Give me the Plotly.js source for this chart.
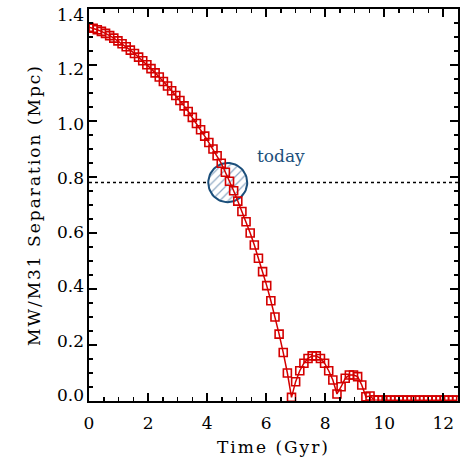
<!DOCTYPE html>
<html>
<head>
<meta charset="utf-8">
<script src="https://cdn.plot.ly/plotly-3.0.1.min.js"></script>
<style>
  body { margin: 0; background: #fff; }
  #myDiv { width: 472px; height: 472px; }
  /* the original axis font runs wider */
  #myDiv text.xtitle, #myDiv text.y2title { letter-spacing: 2px; }
</style>
</head>
<body>
<div id="myDiv"></div>
<script>
// time (Gyr) of each output
var time = [
  0.00, 0.14, 0.28, 0.42, 0.56, 0.70, 0.84, 0.98, 1.12, 1.26,
  1.40, 1.54, 1.68, 1.82, 1.96, 2.10, 2.24, 2.38, 2.52, 2.66,
  2.80, 2.94, 3.08, 3.22, 3.36, 3.50, 3.64, 3.78, 3.92, 4.06,
  4.20, 4.34, 4.48, 4.62, 4.76, 4.90, 5.04, 5.18, 5.32, 5.46,
  5.60, 5.74, 5.88, 6.02, 6.16, 6.30, 6.44, 6.58, 6.72, 6.86,
  7.00, 7.14, 7.28, 7.42, 7.56, 7.70, 7.84, 7.98, 8.12, 8.26,
  8.40, 8.54, 8.68, 8.82, 8.96, 9.10, 9.24, 9.38, 9.52, 9.66,
  9.80, 9.94, 10.08, 10.22, 10.36, 10.50, 10.64, 10.78, 10.92, 11.06,
  11.20, 11.34, 11.48, 11.62, 11.76, 11.90, 12.04, 12.18, 12.32, 12.46
];

// MW/M31 separation (Mpc)
var separation = [
  1.335, 1.331, 1.326, 1.320, 1.313, 1.305, 1.296, 1.286, 1.276, 1.265,
  1.253, 1.241, 1.228, 1.215, 1.201, 1.187, 1.172, 1.157, 1.141, 1.125,
  1.108, 1.091, 1.073, 1.054, 1.034, 1.013, 0.991, 0.969, 0.946, 0.923,
  0.900, 0.876, 0.849, 0.817, 0.785, 0.751, 0.714, 0.677, 0.640, 0.600,
  0.557, 0.510, 0.462, 0.412, 0.358, 0.300, 0.239, 0.173, 0.100, 0.013,
  0.069, 0.108, 0.135, 0.152, 0.161, 0.161, 0.152, 0.135, 0.108, 0.075,
  0.025, 0.051, 0.081, 0.093, 0.093, 0.087, 0.057, 0.015, 0.018, 0.004,
  0.003, 0.003, 0.003, 0.003, 0.003, 0.003, 0.003, 0.003, 0.003, 0.003,
  0.003, 0.003, 0.003, 0.003, 0.003, 0.003, 0.003, 0.003, 0.003, 0.003
];

var yTickVals = [0, 0.2, 0.4, 0.6, 0.8, 1.0, 1.2, 1.4];

// "today" marker
var todayT = 4.70;
var todaySep = 0.78;
var todayRx = 0.66;   // Gyr
var todayRy = 0.070;  // Mpc

var red = '#d40000';
var navy = '#1b4f7b';
var serif = 'DejaVu Serif, serif';

// outline of the "today" circle
var circX = [], circY = [];
for (var k = 0; k <= 64; k++) {
  var a = 2 * Math.PI * k / 64;
  circX.push(todayT + todayRx * Math.cos(a));
  circY.push(todaySep + todayRy * Math.sin(a));
}

var circle = {
  x: circX,
  y: circY,
  type: 'scatter',
  mode: 'lines',
  fill: 'toself',
  fillcolor: 'rgba(0,0,0,0)',
  fillpattern: {shape: '/', fgcolor: '#8fa9c4', bgcolor: 'white', size: 6, solidity: 0.2},
  line: {color: navy, width: 2},
  hoverinfo: 'skip'
};

var orbit = {
  x: time,
  y: separation,
  type: 'scatter',
  mode: 'lines+markers',
  line: {color: red, width: 1.5},
  marker: {symbol: 'square-open', size: 8, color: red, line: {color: red, width: 1.6}},
  cliponaxis: true
};

// invisible trace so the label axis gets drawn
var labelAxis = {
  x: [time[0]],
  y: [separation[0]],
  yaxis: 'y2',
  type: 'scatter',
  mode: 'markers',
  marker: {opacity: 0},
  hoverinfo: 'skip'
};

var tickFont = {family: serif, size: 17, color: 'black'};

var layout = {
  width: 472,
  height: 472,
  margin: {l: 89, r: 14, t: 9, b: 71},
  paper_bgcolor: 'white',
  plot_bgcolor: 'white',
  showlegend: false,
  xaxis: {
    range: [0, 12.5],
    tick0: 0,
    dtick: 2,
    ticks: 'inside',
    ticklen: 8,
    tickwidth: 1.5,
    tickcolor: 'black',
    minor: {dtick: 0.5, ticks: 'inside', ticklen: 4, tickwidth: 1.5, tickcolor: 'black', showgrid: false},
    showline: true,
    linewidth: 2,
    linecolor: 'black',
    mirror: 'ticks',
    showgrid: false,
    zeroline: false,
    tickfont: tickFont,
    ticklabelstandoff: 6,
    title: {text: 'Time (Gyr)', font: {family: serif, size: 17, color: 'black'}, standoff: 9}
  },
  yaxis: {
    range: [0, 1.4],
    tick0: 0,
    dtick: 0.2,
    ticks: 'inside',
    ticklen: 8,
    tickwidth: 1.5,
    tickcolor: 'black',
    minor: {dtick: 0.05, ticks: 'inside', ticklen: 4, tickwidth: 1.5, tickcolor: 'black', showgrid: false},
    showline: true,
    linewidth: 2,
    linecolor: 'black',
    mirror: 'ticks',
    showgrid: false,
    zeroline: false,
    showticklabels: false
  },
  // labels only, spaced like the original
  yaxis2: {
    overlaying: 'y',
    side: 'left',
    range: [-0.0221, 1.4221],
    tickmode: 'array',
    tickvals: yTickVals,
    tickformat: '.1f',
    ticks: '',
    showline: false,
    showgrid: false,
    zeroline: false,
    tickfont: tickFont,
    ticklabelstandoff: 4,
    title: {text: 'MW/M31 Separation (Mpc)', font: {family: serif, size: 17, color: 'black'}, standoff: 12}
  },
  shapes: [{
    type: 'line',
    xref: 'paper', x0: 0, x1: 1,
    yref: 'y', y0: todaySep, y1: todaySep,
    line: {color: 'black', width: 1.5, dash: 'dot'},
    layer: 'below'
  }],
  annotations: [{
    x: 6.49, y: 0.875,
    xref: 'x', yref: 'y',
    text: 'today',
    showarrow: false,
    font: {family: serif, size: 17, color: navy}
  }]
};

var plotDiv = document.getElementById('myDiv');

Plotly.newPlot(plotDiv, [circle, orbit, labelAxis], layout, {staticPlot: true});
</script>
</body>
</html>
